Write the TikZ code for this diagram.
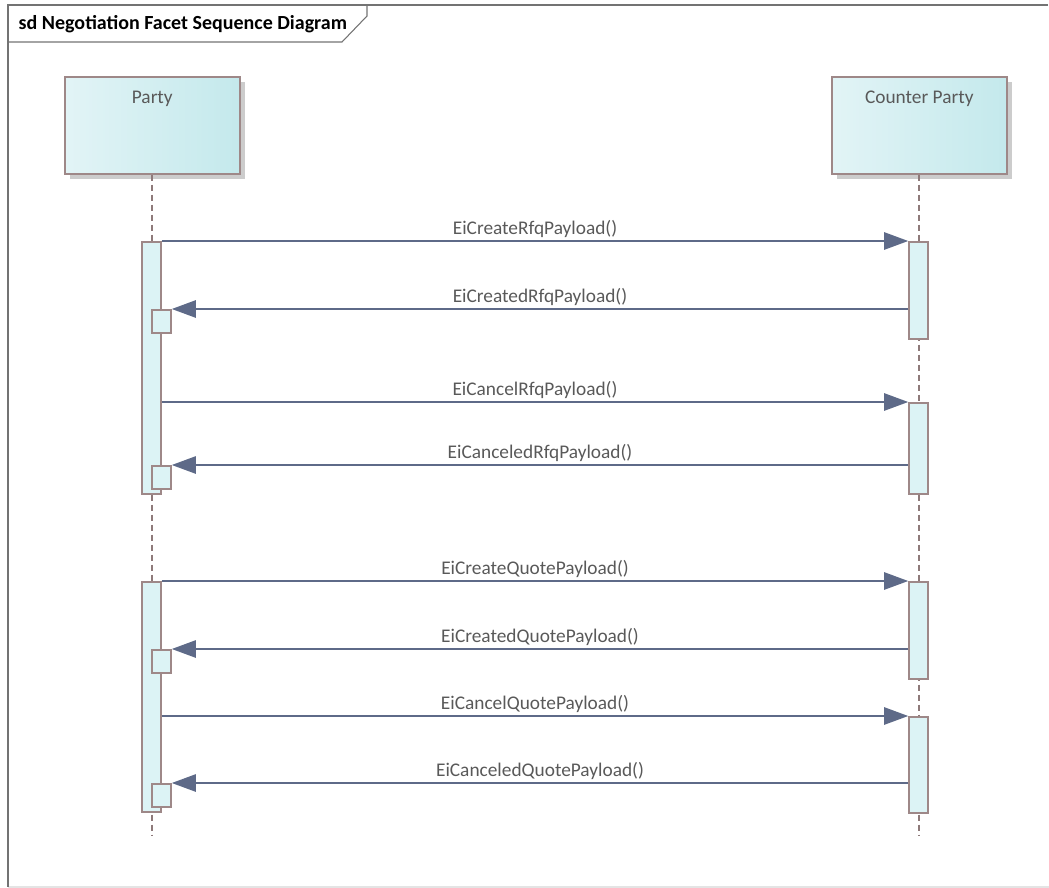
\documentclass[tikz,border=0pt]{standalone}
\usepackage{fontspec}
\setmainfont{Carlito}
\usetikzlibrary{arrows.meta,shadows}

\definecolor{boxline}{HTML}{9E8888}
\definecolor{boxleft}{HTML}{E2F4F6}
\definecolor{boxright}{HTML}{C4E9EC}
\definecolor{actfill}{HTML}{DCF3F5}
\definecolor{msgcolor}{HTML}{5E6A88}
\definecolor{labelgray}{HTML}{595959}
\definecolor{framegray}{HTML}{737373}
\definecolor{edgegray}{HTML}{E4E4E4}

\begin{document}
\begin{tikzpicture}[x=0.75pt, y=-0.75pt, font=\fontsize{14.5}{17}\selectfont,
  lifebox/.style={rectangle, draw=boxline, line width=1.2pt, left color=boxleft, right color=boxright,
    minimum width=131.25pt, minimum height=72.75pt, inner sep=0pt, anchor=north west,
    drop shadow={shadow xshift=3.75pt, shadow yshift=-3.75pt, fill=black!20, opacity=1}},
  boxname/.style={text=labelgray, anchor=north, yshift=-8pt},
  actbar/.style={rectangle, draw=boxline, line width=1.2pt, fill=actfill, minimum width=14.25pt, inner sep=0pt, anchor=north},
  retbox/.style={actbar, minimum height=17.25pt},
  lifeline/.style={draw=boxline!90!black, line width=1.4pt, dash pattern=on 4.5pt off 3pt},
  msg/.style={draw=msgcolor, line width=1.1pt, -{Triangle[length=18pt, width=13pt]}},
  msglabel/.style={midway, above=-1pt, text=labelgray},
  frameline/.style={draw=framegray, line width=0.8pt}]

  \useasboundingbox (0,0) rectangle (1049,888);

  % frame and title tab
  \draw[edgegray, line width=1.2pt] (8,887) -- (1060,887);
  \draw[frameline] (1048,5) -- (8,5) -- (8,887);
  \draw[frameline] (8,42) -- (342,42) -- (367,16) -- (367,5);
  \node[anchor=west, font=\fontsize{15}{18}\selectfont\bfseries] (title) at (14,24) {sd Negotiation Facet Sequence Diagram};

  % lifelines
  \node[lifebox, label={[boxname]north:Party}] (party) at (64,76) {};
  \node[lifebox, label={[boxname]north:Counter Party}] (cparty) at (831,76) {};
  \coordinate (pend) at (party.south |- 0,836);
  \coordinate (cend) at (cparty.south |- 0,836);
  \draw[lifeline] (party.south) -- (pend);
  \draw[lifeline] (cparty.south) -- (cend);

  % activations on Party
  \node[actbar, minimum height=189pt] (pa1) at (151.5,241) {};
  \node[actbar, minimum height=172.5pt] (pa2) at (151.5,581) {};
  \node[retbox] (pr1) at (161.5,309) {};
  \node[retbox] (pr2) at (161.5,465) {};
  \node[retbox] (pr3) at (161.5,649) {};
  \node[retbox] (pr4) at (161.5,783) {};

  % activations on Counter Party
  \node[actbar, minimum height=72.75pt] (ca1) at (918.5,241) {};
  \node[actbar, minimum height=68.25pt] (ca2) at (918.5,402) {};
  \node[actbar, minimum height=72.75pt] (ca3) at (918.5,581) {};
  \node[actbar, minimum height=72pt] (ca4) at (918.5,716) {};

  % messages
  \draw[msg] (pa1.north east) -- node[msglabel] {EiCreateRfqPayload()} (ca1.north west);
  \draw[msg] (ca1.west |- pr1.north) -- node[msglabel] {EiCreatedRfqPayload()} (pr1.north east);
  \draw[msg] (pa1.east |- ca2.north) -- node[msglabel] {EiCancelRfqPayload()} (ca2.north west);
  \draw[msg] (ca2.west |- pr2.north) -- node[msglabel] {EiCanceledRfqPayload()} (pr2.north east);
  \draw[msg] (pa2.north east) -- node[msglabel] {EiCreateQuotePayload()} (ca3.north west);
  \draw[msg] (ca3.west |- pr3.north) -- node[msglabel] {EiCreatedQuotePayload()} (pr3.north east);
  \draw[msg] (pa2.east |- ca4.north) -- node[msglabel] {EiCancelQuotePayload()} (ca4.north west);
  \draw[msg] (ca4.west |- pr4.north) -- node[msglabel] {EiCanceledQuotePayload()} (pr4.north east);
\end{tikzpicture}
\end{document}
